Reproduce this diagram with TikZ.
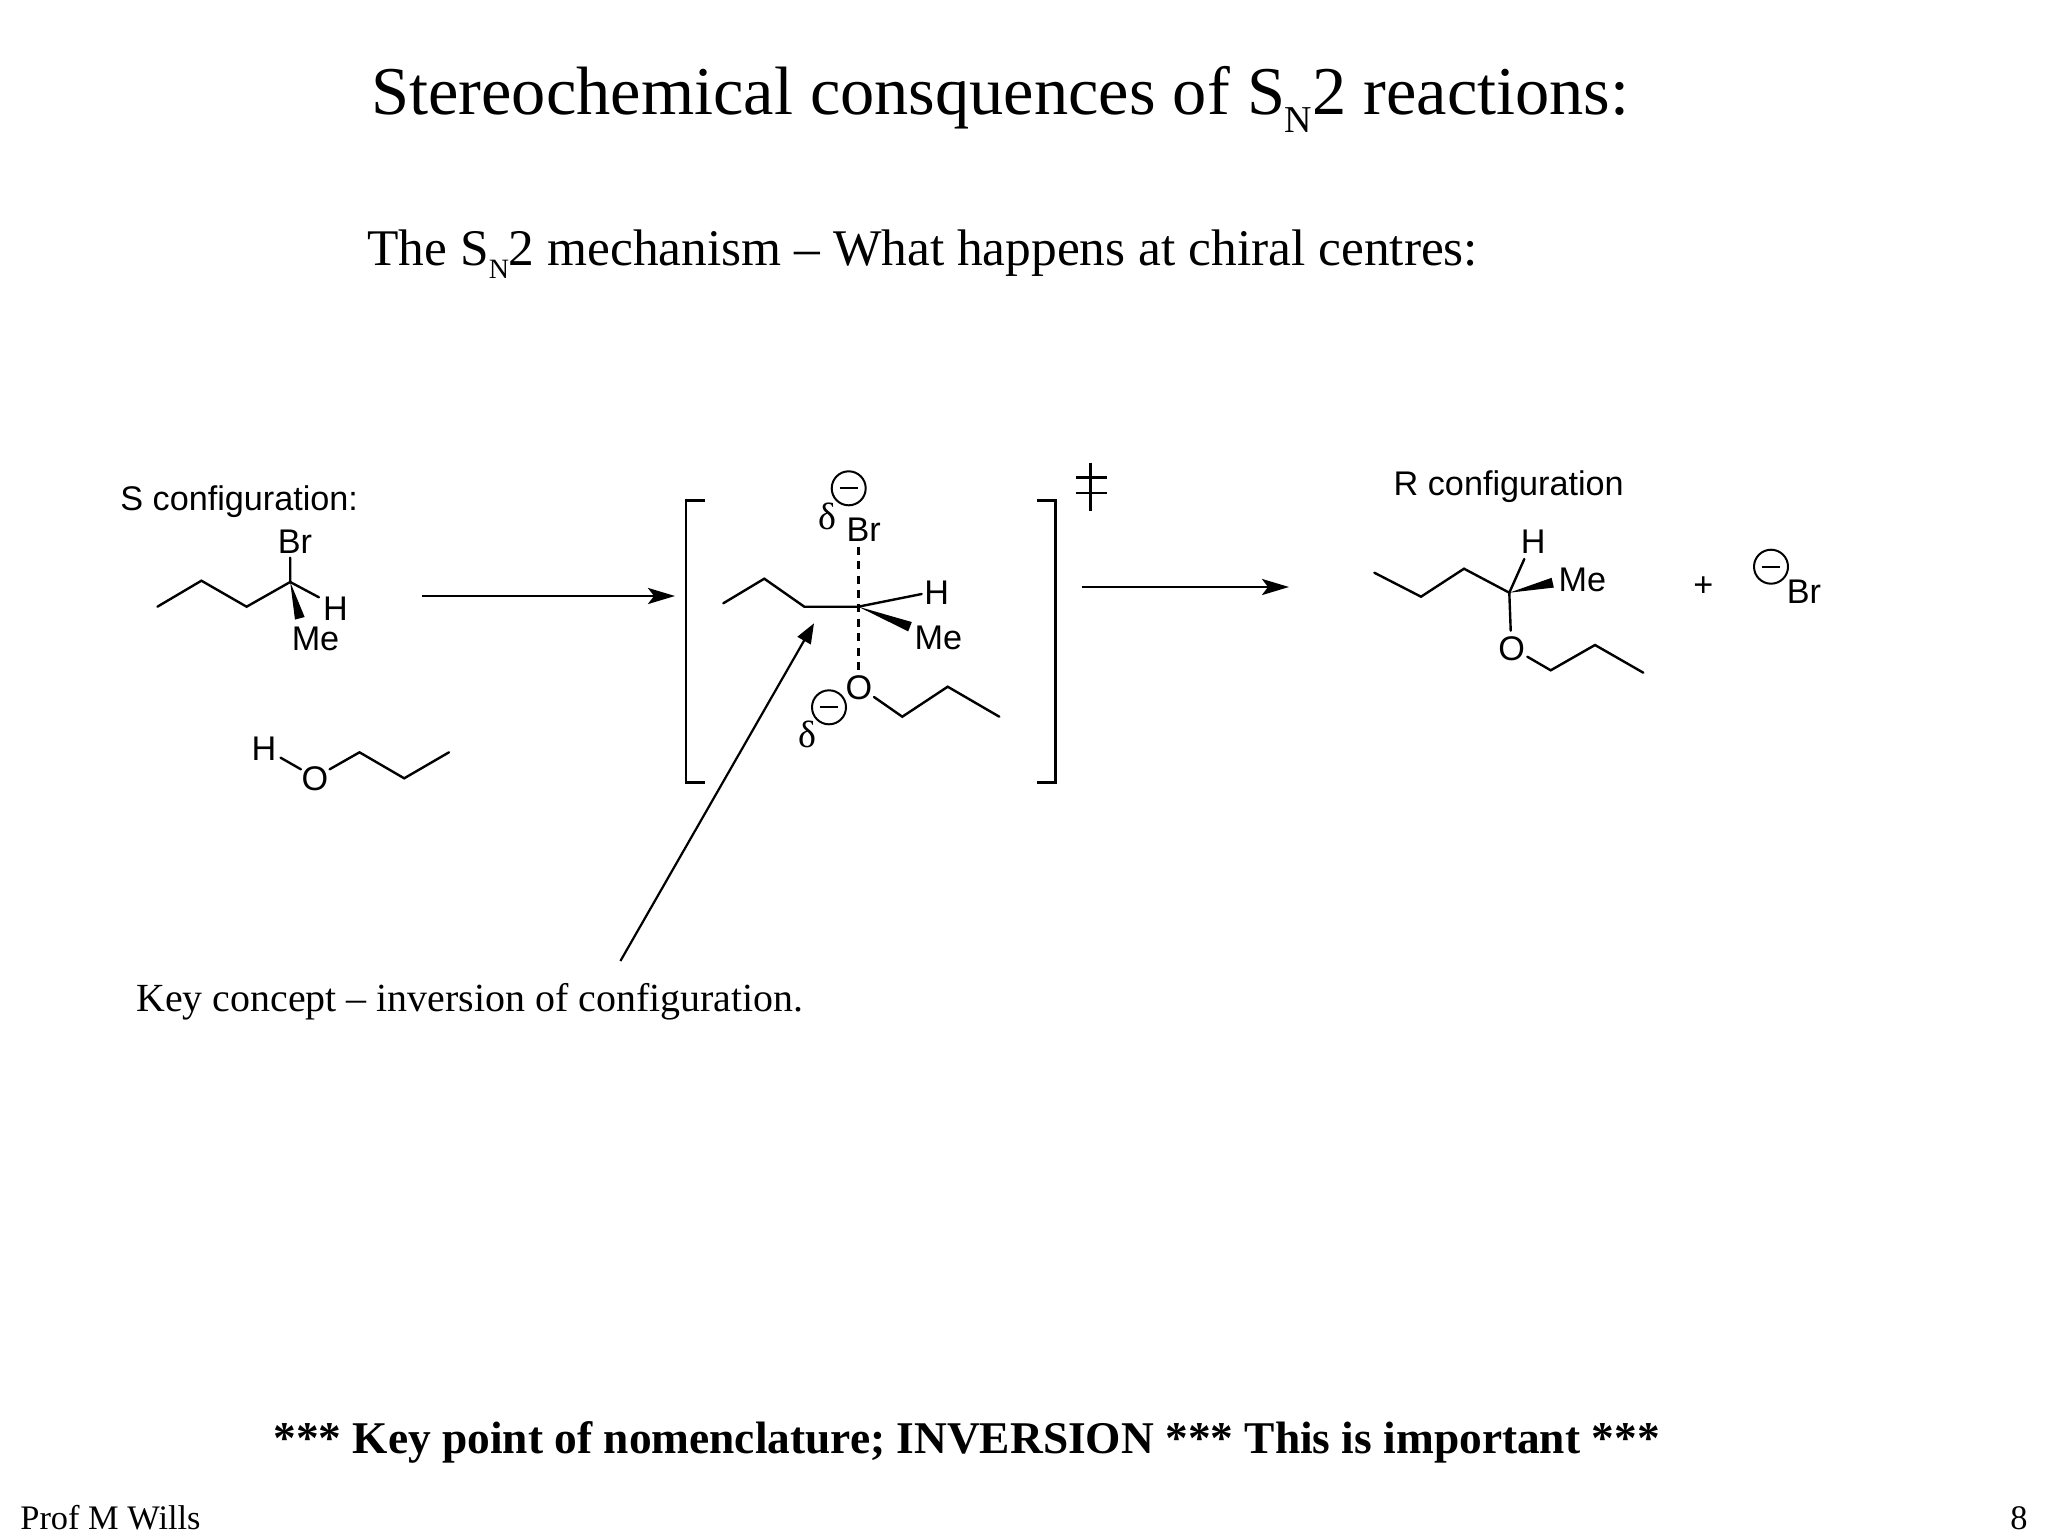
\documentclass[tikz,border=0pt]{standalone}
\usepackage{fontspec}
\setmainfont{Liberation Serif}
\newfontfamily\chemsf{Liberation Sans}
\usetikzlibrary{arrows.meta,calc}
\newcommand{\subN}[2]{\raisebox{#1}{\fontsize{#2}{#2}\selectfont N}}
\tikzset{
  bond/.style={line width=1.2pt,line cap=round},
  wedgebond/.style={fill=black},
  tsbond/.style={line width=1.3pt,dash pattern=on 4pt off 3.2pt},
  rxnarrow/.style={line width=1.4pt,-{Stealth[length=13.5pt,width=8pt,inset=3pt]}},
  keyarrow/.style={line width=1.1pt,-{Stealth[length=10pt,width=7.5pt,inset=0pt]}},
  bracketline/.style={line width=1.4pt},
  atom/.style={font=\chemsf\fontsize{17.1}{20}\selectfont,inner sep=0pt},
  labeltext/.style={font=\chemsf\fontsize{17.1}{20}\selectfont,inner sep=0pt,anchor=base west},
  deltatext/.style={font=\fontsize{19}{20}\selectfont,inner sep=0pt},
  minuscircle/.style={circle,draw,line width=1pt,inner sep=0pt,minimum size=17pt,
    path picture={\draw[line width=1pt] ($(path picture bounding box.center)+(-4.4pt,0)$) -- ($(path picture bounding box.center)+(4.4pt,0)$);}},
  slidetext/.style={inner sep=0pt,anchor=base west}
}
\begin{document}
\begin{tikzpicture}[x=.5pt,y=-.5pt]
\useasboundingbox[fill=white] (0,0) rectangle (2048,1536);
% headings
\node[slidetext,font=\fontsize{34.2}{40}\selectfont] (title) at (371,114) {Stereochemical consquences of S\subN{-.27em}{19}2 reactions:};
\node[slidetext,font=\fontsize{25.7}{30}\selectfont] (sub) at (367,265) {The S\subN{-.27em}{14}2 mechanism -- What happens at chiral centres:};
\node[slidetext,font=\fontsize{19.95}{24}\selectfont] (key) at (136,1011) {Key concept -- inversion of configuration.};
\node[slidetext,font=\bfseries\fontsize{22.7}{28}\selectfont] (bold) at (273,1453) {*** Key point of nomenclature; INVERSION *** This is important ***};
\node[slidetext,font=\fontsize{17.2}{18}\selectfont] (prof) at (20,1529) {Prof M Wills};
\node[inner sep=0pt,anchor=base east,font=\fontsize{17.2}{18}\selectfont] (page) at (2028,1529) {8};
% left: substrate
\node[labeltext] (sconf) at (120,510) {S configuration:};
\coordinate (a1) at (157.4,606.7);
\coordinate (a2) at (201.4,580.7);
\coordinate (a3) at (246.6,606.7);
\coordinate (a4) at (290.2,582);
\node[atom] (abr) at (295,541.7) {Br};
\node[atom] (ah) at (335.4,608.5) {H};
\node[atom] (ame) at (315.5,639) {Me};
\coordinate (abrb) at (290.2,557.7);
\coordinate (ahb) at (318.9,597.3);
\coordinate (awt) at (299.8,618.3);
\draw[bond] (a1) -- (a2) -- (a3) -- (a4) -- (abrb);
\draw[bond] (a4) -- (ahb);
\fill[wedgebond] (a4) -- ($(awt)!2.5pt!90:(a4)$) -- ($(awt)!2.5pt!-90:(a4)$) -- cycle;
% left: propanol
\node[atom] (bh) at (264,749) {H};
\node[atom] (bo) at (315,779) {O};
\coordinate (bhb) at (280.6,757.7);
\coordinate (bob) at (300.9,769.3);
\coordinate (b0) at (329.6,769.3);
\coordinate (b1) at (359.5,752.3);
\coordinate (b2) at (404.2,778.3);
\coordinate (b3) at (449,752.3);
\draw[bond] (bhb) -- (bob);
\draw[bond] (b0) -- (b1) -- (b2) -- (b3);
% arrow 1
\coordinate (r1s) at (422,596);
\coordinate (r1e) at (675,596);
\draw[rxnarrow] (r1s) -- (r1e);
% brackets
\coordinate (bl1) at (705,500.7);
\coordinate (bl2) at (686,500.7);
\coordinate (bl3) at (686,782.3);
\coordinate (bl4) at (705,782.3);
\coordinate (br1) at (1036.7,500.7);
\coordinate (br2) at (1055.7,500.7);
\coordinate (br3) at (1055.7,782.3);
\coordinate (br4) at (1036.7,782.3);
\draw[bracketline] (bl1) -- (bl2) -- (bl3) -- (bl4);
\draw[bracketline] (br1) -- (br2) -- (br3) -- (br4);
% double dagger
\coordinate (dd1) at (1090.3,462.7);
\coordinate (dd2) at (1090.3,511);
\coordinate (dd3) at (1076,477.7);
\coordinate (dd4) at (1106.7,477.7);
\coordinate (dd5) at (1076,493);
\coordinate (dd6) at (1106.7,493);
\draw[bracketline] (dd1) -- (dd2);
\draw[bracketline] (dd3) -- (dd4);
\draw[bracketline] (dd5) -- (dd6);
% transition state
\coordinate (t1) at (723.3,603.3);
\coordinate (t2) at (764.3,578.7);
\coordinate (t3) at (804.3,606.7);
\coordinate (t4) at (858.3,606.7);
\coordinate (thb) at (921.7,594);
\coordinate (twt) at (910,626.7);
\coordinate (tbrb) at (858.3,546.7);
\coordinate (tob) at (858.3,676.7);
\node[atom] (tbr) at (863.7,529.3) {Br};
\node[atom] (th) at (936.7,592.7) {H};
\node[atom] (tme) at (938.3,637.7) {Me};
\coordinate (t5) at (874,697);
\coordinate (t6) at (902.3,716.7);
\coordinate (t7) at (947.7,686.7);
\coordinate (t8) at (999.3,716.7);
\draw[bond] (t1) -- (t2) -- (t3) -- (t4) -- (thb);
\draw[tsbond] (tbrb) -- (tob);
\fill[wedgebond] (t4) -- ($(twt)!2.5pt!90:(t4)$) -- ($(twt)!2.5pt!-90:(t4)$) -- cycle;
\draw[bond] (t5) -- (t6) -- (t7) -- (t8);
\node[atom,fill=white,inner sep=.5pt] (to) at (859,687.7) {O};
\node[minuscircle] (tm1) at (848.7,488.3) {};
\node[deltatext] (td1) at (827,516.7) {δ};
\node[minuscircle] (tm2) at (829,707.3) {};
\node[deltatext] (td2) at (807,734.3) {δ};
% key arrow
\coordinate (ktail) at (620.4,961);
\coordinate (ktip) at (814,623.3);
\draw[keyarrow] (ktail) -- (ktip);
% arrow 2
\coordinate (r2s) at (1081.7,587);
\coordinate (r2e) at (1289,587);
\draw[rxnarrow] (r2s) -- (r2e);
% product
\node[labeltext] (rconf) at (1393.3,495) {R configuration};
\coordinate (p1) at (1374.3,572.7);
\coordinate (p2) at (1421,596.7);
\coordinate (p3) at (1464,568.7);
\coordinate (p4) at (1509.3,592.7);
\coordinate (phb) at (1524.3,559);
\coordinate (pwt) at (1552.7,582.7);
\coordinate (pob) at (1510.7,630.7);
\node[atom] (ph) at (1533.3,541.7) {H};
\node[atom] (pme) at (1582.3,580) {Me};
\node[atom] (po) at (1511.7,649) {O};
\coordinate (p5) at (1527.3,656.7);
\coordinate (p6) at (1550.7,670.3);
\coordinate (p7) at (1595,645);
\coordinate (p8) at (1643.3,672.7);
\draw[bond] (p1) -- (p2) -- (p3) -- (p4) -- (phb);
\draw[bond] (p4) -- (pob);
\fill[wedgebond] (p4) -- ($(pwt)!2.5pt!90:(p4)$) -- ($(pwt)!2.5pt!-90:(p4)$) -- cycle;
\draw[bond] (p5) -- (p6) -- (p7) -- (p8);
\node[atom] (plus) at (1703.3,586.7) {+};
\node[minuscircle] (pm) at (1771,566.7) {};
\node[atom] (pbr) at (1804,591.7) {Br};
\end{tikzpicture}
\end{document}
